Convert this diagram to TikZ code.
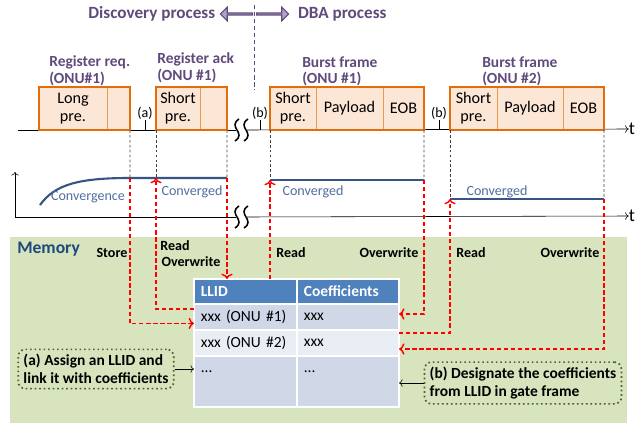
\documentclass[tikz,border=0pt]{standalone}
\usepackage{fontspec}
\setmainfont{Carlito}
\usetikzlibrary{positioning,shapes.arrows,arrows.meta}

\definecolor{frameor}{RGB}{228,108,10}
\definecolor{framefill}{RGB}{252,230,214}
\definecolor{titlepurple}{RGB}{96,74,123}
\definecolor{arrowlav}{RGB}{179,162,199}
\definecolor{curveblue}{RGB}{56,84,130}
\definecolor{textblue}{RGB}{79,110,160}
\definecolor{memblue}{RGB}{31,73,125}
\definecolor{memgreen}{RGB}{215,228,189}
\definecolor{headblue}{RGB}{79,129,189}
\definecolor{rowa}{RGB}{208,216,232}
\definecolor{rowb}{RGB}{233,237,244}
\definecolor{olive}{RGB}{79,98,40}

\tikzset{
  field/.style={rectangle, draw=frameor!70, fill=framefill, line width=0.5pt,
    minimum height=1.075cm, inner sep=0pt, outer sep=0pt, align=center,
    font=\fontsize{11.5}{13}\selectfont},
  outer/.style={draw=frameor, line width=1.4pt},
  ttl/.style={font=\bfseries\fontsize{11}{12}\selectfont, text=titlepurple,
    align=left, inner sep=0pt, anchor=north west},
  big/.style={font=\bfseries\fontsize{12.2}{14}\selectfont, text=titlepurple, inner sep=0pt},
  lbl/.style={font=\fontsize{10}{12}\selectfont, inner sep=0.5pt},
  guide/.style={black!75, dash pattern=on 2pt off 1.5pt, line width=0.5pt},
  curve/.style={curveblue, line width=1.5pt},
  cvtxt/.style={font=\fontsize{10}{12}\selectfont, text=textblue, inner sep=0pt},
  mlbl/.style={font=\bfseries\fontsize{10}{12}\selectfont, inner sep=0pt},
  rw/.style={red, dash pattern=on 3pt off 2pt, line width=1pt, ->},
  brk/.style={line width=1.1pt},
  cell/.style={rectangle, draw=white, line width=1pt, inner xsep=0.17cm, inner ysep=0pt,
    outer sep=0pt, align=left, font=\fontsize{11}{13}\selectfont},
  hcell/.style={cell, fill=headblue, text=white, font=\bfseries\fontsize{11}{13}\selectfont,
    minimum height=0.625cm},
  colA/.style={text width=2.235cm},
  colB/.style={text width=2.21cm},
  note/.style={draw=olive, dotted, line width=1.2pt, rounded corners=5pt, align=left,
    inner xsep=0.13cm, font=\bfseries\fontsize{11}{13}\selectfont},
  larr/.style={single arrow, draw=titlepurple, fill=arrowlav, line width=0.8pt,
    minimum height=0.8cm, minimum width=0.34cm, single arrow head extend=0.085cm,
    inner sep=0pt}
}

\begin{document}
\begin{tikzpicture}[x=0.025cm, y=-0.025cm]
\useasboundingbox (0,0) rectangle (636,426);

% process header
\node[larr, shape border rotate=180, anchor=tail] (la) at (253,14) {};
\node[larr, anchor=tail] (ra) at (256,14) {};
\node[big, left=3pt of la.tip] (disc) {Discovery process};
\node[big, right=6pt of ra.tip] (dba) {DBA process};
\draw[titlepurple, densely dashed, line width=0.6pt] (254,5) -- (254,90);

% upstream time axis
\node[font=\fontsize{13}{14}\selectfont, inner sep=0pt] (t1) at (632,129) {t};
\draw (18,130) -- (236,130);
\draw[->] (247,130) -- (t1.west);

% frames
\node[field, minimum width=1.7cm, anchor=south west] (lp) at (39,130) {Long\\pre.};
\node[field, minimum width=0.575cm, right=0pt of lp] (lx) {};
\draw[outer] (lp.north west) rectangle (lx.south east);

\node[field, minimum width=1.1cm, anchor=south west] (sp1) at (156,130) {Short\\pre.};
\node[field, minimum width=0.675cm, right=0pt of sp1] (sx1) {};
\draw[outer] (sp1.north west) rectangle (sx1.south east);

\node[field, minimum width=1.15cm, anchor=south west] (sp2) at (270,130) {Short\\pre.};
\node[field, minimum width=1.675cm, right=0pt of sp2] (pl2) {Payload};
\node[field, minimum width=1.025cm, right=0pt of pl2] (eob2) {EOB};
\draw[outer] (sp2.north west) rectangle (eob2.south east);

\node[field, minimum width=1.175cm, anchor=south west] (sp3) at (450,130) {Short\\pre.};
\node[field, minimum width=1.65cm, right=0pt of sp3] (pl3) {Payload};
\node[field, minimum width=1.025cm, right=0pt of pl3] (eob3) {EOB};
\draw[outer] (sp3.north west) rectangle (eob3.south east);

\node[ttl] (reqt) at (49,55) {Register req.\\(ONU\#1)};
\node[ttl] (ackt) at (157,52) {Register ack\\(ONU \#1)};
\node[ttl] (bf1t) at (302,56) {Burst frame\\(ONU \#1)};
\node[ttl] (bf2t) at (482,56) {Burst frame\\(ONU \#2)};

% gate marks
\node[lbl, anchor=south] (ta) at (145,120) {(a)};
\node[lbl, anchor=south] (tb1) at (260,120) {(b)};
\node[lbl, anchor=south] (tb2) at (439,120) {(b)};
\foreach \m in {ta,tb1,tb2}
  \draw (\m.south) -- (\m.south |- lp.south);

% coefficient level
\coordinate (cv1) at (130,178);
\coordinate (cv2) at (156,178);
\coordinate (cv3) at (227,178);
\coordinate (cv4) at (270,180);
\coordinate (cv5) at (424,180);
\coordinate (cv6) at (450,199);
\coordinate (cv7) at (604,199);

\draw[guide] (lx.south east) -- (cv1);
\draw[guide] (sp1.south west) -- (cv2);
\draw[guide] (sx1.south east) -- (cv3);
\draw[guide] (sp2.south west) -- (cv4);
\draw[guide] (eob2.south east) -- (cv5);
\draw[guide] (sp3.south west) -- (cv6);
\draw[guide] (eob3.south east) -- (cv7);

\node[font=\fontsize{13}{14}\selectfont, inner sep=0pt] (t2) at (632,216) {t};
\draw[->] (15,217) -- (15,172);
\draw (15,217) -- (236,217);
\draw[->] (247,217) -- (t2.west);

\draw[curve] (40,205) .. controls (55,184) and (80,178) .. (cv1) -- (cv3);
\draw[curve] (cv4) -- (cv5);
\draw[curve] (cv6) -- (cv7);
\node[cvtxt] (cgc) at (88,197) {Convergence};
\node[cvtxt] (cg1) at (192,192) {Converged};
\node[cvtxt] (cg2) at (313,192) {Converged};
\node[cvtxt] (cg3) at (497,192) {Converged};

% break marks
\foreach \bx in {237,246}
  \foreach \by in {130,217}
    \draw[brk] (\bx+2,\by-11) .. controls (\bx-10,\by-3) and (\bx+10,\by+3) .. (\bx-2,\by+11);

% memory
\fill[memgreen] (10,237) rectangle (627,423);
\node[font=\bfseries\fontsize{12.5}{14}\selectfont, text=memblue, inner sep=0pt, anchor=west] (mem) at (17,249) {Memory};
\node[mlbl] (st) at (112,253) {Store};
\node[mlbl] (rd1) at (175,246) {Read};
\node[mlbl] (ow1) at (191,262) {Overwrite};
\node[mlbl] (rd2) at (291,253) {Read};
\node[mlbl] (ow2) at (389,253) {Overwrite};
\node[mlbl] (rd3) at (471,253) {Read};
\node[mlbl] (ow3) at (570,253) {Overwrite};

% LLID table
\node[hcell, colA, anchor=north west] (h1) at (194,279) {LLID};
\node[hcell, colB, right=0pt of h1] (h2) {Coefficients};
\node[cell, colA, fill=rowa, minimum height=0.65cm, below=0pt of h1] (r11) {xxx (ONU \#1)};
\node[cell, colB, fill=rowa, minimum height=0.65cm, right=0pt of r11] (r12) {xxx};
\node[cell, colA, fill=rowb, minimum height=0.65cm, below=0pt of r11] (r21) {xxx (ONU \#2)};
\node[cell, colB, fill=rowb, minimum height=0.65cm, right=0pt of r21] (r22) {xxx};
\node[cell, colA, fill=rowa, text height=0.4cm, text depth=0.875cm, below=0pt of r21] (r31) {...};
\node[cell, colB, fill=rowa, text height=0.4cm, text depth=0.875cm, right=0pt of r31] (r32) {...};

% notes
\node[note] (na) at (96,369) {(a) Assign an LLID and\\link it with coefficients};
\node[note] (nb) at (523,383) {(b) Designate the coefficients\\from LLID in gate frame};
\draw[->] (na.east) -- (na.east -| r31.west);
\draw[->] (nb.west) -- (nb.west -| r32.east);

% read / write paths
\draw[rw] (cv1) |- ([yshift=-0.16cm]r11.west);
\draw[rw] ([yshift=0.2cm]r11.west) -| (cv2);
\draw[rw] (cv3) -- (cv3 |- h1.north);
\draw[rw] (cv4 |- h1.north) -- (cv4);
\draw[rw] (cv5) |- ([yshift=0.075cm]r12.east);
\draw[rw] ([yshift=0.25cm]r22.east) -| (cv6);
\draw[rw] (cv7) |- ([yshift=-0.15cm]r22.east);
\end{tikzpicture}
\end{document}
